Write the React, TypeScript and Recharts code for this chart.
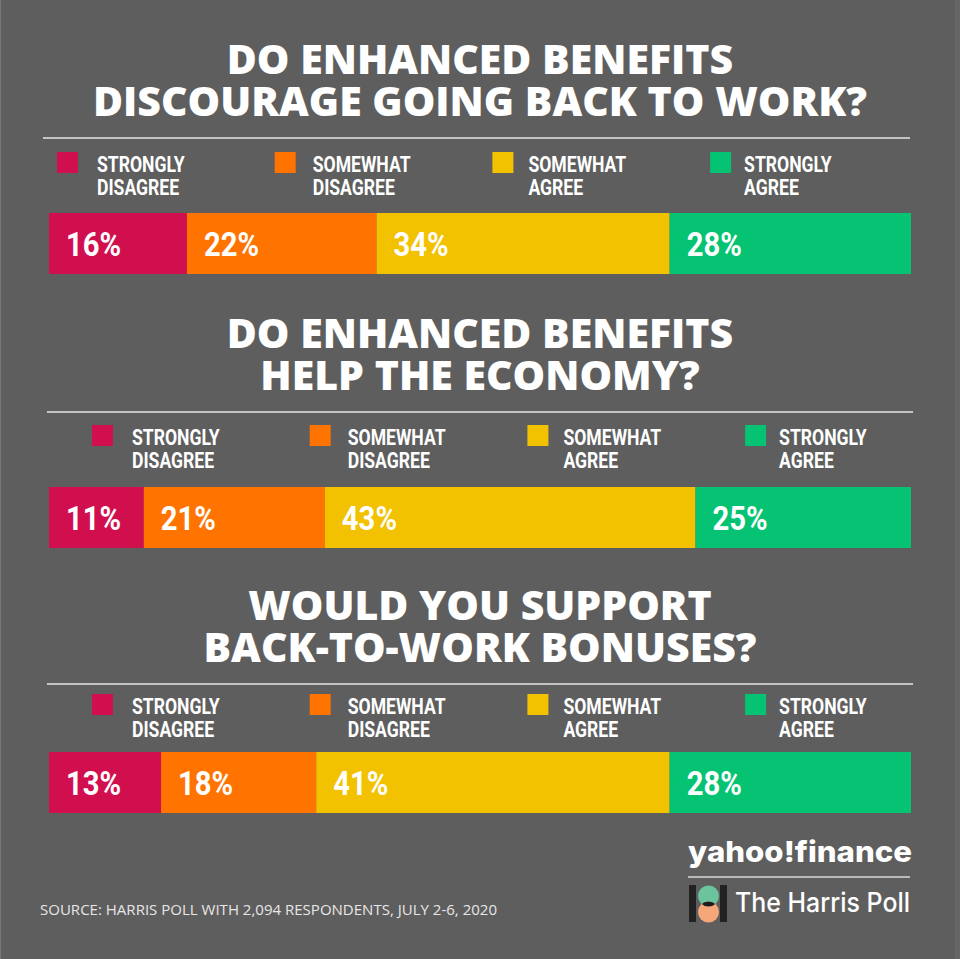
import * as React from 'react';
import { Bar, BarChart, LabelList, XAxis, YAxis } from 'recharts';

const BG = '#5e5e5e';
const COLORS = ['#d10f4f', '#ff7300', '#f2c200', '#05c373'];
const NARROW = 'Roboto, "Liberation Sans", sans-serif';
const HEAVY = '"Open Sans", "Noto Sans", sans-serif';

const answerKeys = ['stronglyDisagree', 'somewhatDisagree', 'somewhatAgree', 'stronglyAgree'];
const answerLabels = [
	['STRONGLY', 'DISAGREE'],
	['SOMEWHAT', 'DISAGREE'],
	['SOMEWHAT', 'AGREE'],
	['STRONGLY', 'AGREE'],
];

const discourageTitle = ['DO ENHANCED BENEFITS', 'DISCOURAGE GOING BACK TO WORK?'];
const discourageValues = [16, 22, 34, 28];

const economyTitle = ['DO ENHANCED BENEFITS', 'HELP THE ECONOMY?'];
const economyValues = [11, 21, 43, 25];

const bonusTitle = ['WOULD YOU SUPPORT', 'BACK-TO-WORK BONUSES?'];
const bonusValues = [13, 18, 41, 28];

const sourceNote = 'SOURCE: HARRIS POLL WITH 2,094 RESPONDENTS, JULY 2-6, 2020';

// where each block sits on the page
const panels = [
	{title: discourageTitle, values: discourageValues, titleY: 74, ruleY: 138, ruleX: [43, 910], legendY: 152, legendX: 57, barY: 213},
	{title: economyTitle, values: economyValues, titleY: 348, ruleY: 412, ruleX: [47, 913], legendY: 425, legendX: 92, barY: 487},
	{title: bonusTitle, values: bonusValues, titleY: 620, ruleY: 684, ruleX: [47, 913], legendY: 694, legendX: 92, barY: 752},
];

const BAR_X = 49;
const BAR_W = 862;
const BAR_H = 61;

function renderPct(props: any) {
	const x = Number(props.x ?? props.viewBox?.x);
	const y = Number(props.y ?? props.viewBox?.y);
	const h = Number(props.height ?? props.viewBox?.height);
	return (
		<text
			transform={`translate(${x + 17},${y + h / 2 + 12}) scale(0.86,1)`}
			fill="#fff"
			fontFamily={NARROW}
			fontWeight={700}
			fontSize={34}
		>
			{props.value}%
		</text>
	);
}

function StackBar({values}: {values: number[]}) {
	const row: any = {name: 'answers'};
	answerKeys.forEach((k, i) => {
		row[k] = values[i];
	});
	return (
		<BarChart
			layout="vertical"
			width={BAR_W}
			height={BAR_H}
			data={[row]}
			margin={{top: 0, right: 0, bottom: 0, left: 0}}
			barCategoryGap={0}
		>
			<XAxis type="number" domain={[0, 100]} hide />
			<YAxis type="category" dataKey="name" hide />
			{answerKeys.map((k, i) => (
				<Bar key={k} dataKey={k} stackId="a" fill={COLORS[i]} isAnimationActive={false}>
					<LabelList dataKey={k} content={renderPct} />
				</Bar>
			))}
		</BarChart>
	);
}

function Legend({x, y}: {x: number; y: number}) {
	return (
		<g>
			{answerLabels.map((lines, i) => {
				const sx = x + i * 217.7;
				const tx = sx + 40 - 2 * i;
				return (
					<g key={i}>
						<rect x={sx} y={y} width={21} height={21} fill={COLORS[i]} />
						<text
							transform={`translate(${tx},${y + 20}) scale(0.8,1)`}
							fill="#fff"
							fontFamily={NARROW}
							fontWeight={700}
							fontSize={22}
						>
							{lines.map((line, j) => (
								<tspan key={j} x={0} y={j * 23}>{line}</tspan>
							))}
						</text>
					</g>
				);
			})}
		</g>
	);
}

function Overlay() {
	return (
		<svg width={960} height={959} style={{position: 'absolute', left: 0, top: 0}}>
			<rect x={955} y={0} width={5} height={959} fill="#666" />
			<rect x={0} y={0} width={1} height={959} fill="#777" />
			{panels.map((p, i) => (
				<g key={i}>
					<text
						textAnchor="middle"
						fill="#fff"
						fontFamily={HEAVY}
						fontWeight={800}
						fontSize={41}
					>
						{p.title.map((line, j) => (
							<tspan key={j} x={480} y={p.titleY + j * 42}>{line}</tspan>
						))}
					</text>
					<line x1={p.ruleX[0]} x2={p.ruleX[1]} y1={p.ruleY} y2={p.ruleY} stroke="#e6e6e6" strokeWidth={1.5} />
					<Legend x={p.legendX} y={p.legendY} />
				</g>
			))}
			<text
				x={40}
				y={915}
				fill="#e6e6e6"
				fontFamily={HEAVY}
				fontSize={15}
				textLength={457}
				lengthAdjust="spacingAndGlyphs"
			>
				{sourceNote}
			</text>
			<text
				x={688}
				y={862}
				fill="#fff"
				fontFamily='"Inter", "Open Sans", sans-serif'
				fontWeight={800}
				fontSize={29}
				textLength={224}
				lengthAdjust="spacingAndGlyphs"
			>
				yahoo!finance
			</text>
			<line x1={688} x2={910} y1={877} y2={877} stroke="#d8d8d8" strokeWidth={1.5} />
			<defs>
				<clipPath id="greenClip">
					<circle cx={708.5} cy={896} r={10.5} />
				</clipPath>
			</defs>
			<rect x={689} y={885} width={7} height={37} fill="#222" />
			<rect x={720} y={885} width={7} height={37} fill="#222" />
			<circle cx={708.5} cy={896} r={10.5} fill="#6cc49c" />
			<circle cx={708.5} cy={912} r={10.5} fill="#f5a77a" />
			<circle cx={708.5} cy={912} r={10.5} fill="#1c1c1c" clipPath="url(#greenClip)" />
			<text
				x={735}
				y={912}
				fill="#fff"
				fontFamily='"Inter", "Open Sans", sans-serif'
				fontWeight={500}
				fontSize={27}
				textLength={175}
				lengthAdjust="spacingAndGlyphs"
			>
				The Harris Poll
			</text>
		</svg>
	);
}

export default function App() {
	return (
		<div
			style={{
				position: 'absolute',
				left: 0,
				top: 0,
				width: 960,
				height: 959,
				background: BG,
				overflow: 'hidden',
			}}
		>
			<Overlay />
			{panels.map((p, i) => (
				<div key={i} style={{position: 'absolute', left: BAR_X, top: p.barY, width: BAR_W, height: BAR_H}}>
					<StackBar values={p.values} />
				</div>
			))}
		</div>
	);
}
